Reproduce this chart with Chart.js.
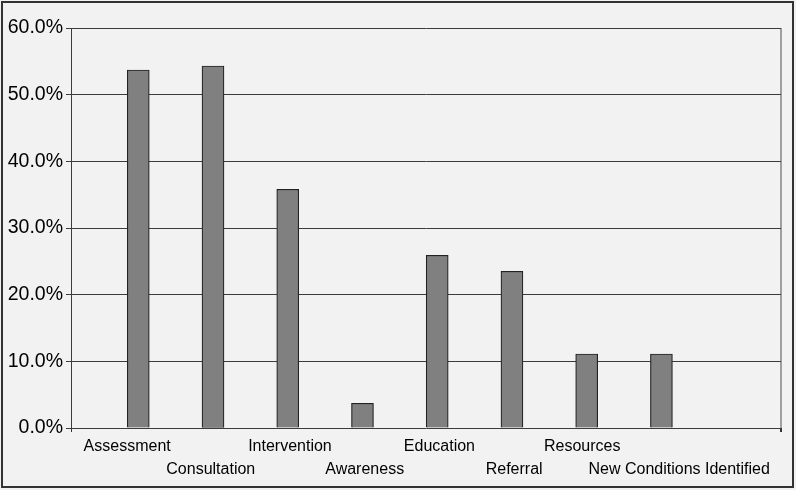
<!DOCTYPE html>
<html>
<head>
<meta charset="utf-8">
<script src="https://cdn.jsdelivr.net/npm/chart.js@4/dist/chart.umd.min.js"></script>
<style>
  html, body { margin: 0; padding: 0; background: #f2f2f2; }
  canvas { display: block; }
</style>
</head>
<body>
<canvas id="c" width="796" height="490"></canvas>
<script>
// ---- data ----
const categories = ["Assessment", "Consultation", "Intervention", "Awareness",
                    "Education", "Referral", "Resources", "New Conditions Identified"];
const percentValues = [53.7, 54.3, 35.8, 3.7, 25.9, 23.5, 11.1, 11.1];
const yTickValues = [0, 10, 20, 30, 40, 50, 60];

// ---- layout helpers (label placement tweaks, in spaces) ----
const labelRow = [0, 1, 0, 1, 0, 1, 0, 1];          // staggered rows
const leadSpaces = [0, 0, 1, 1, 1, 1, 0, 8];
const trailSpaces = [5, 1, 0, 0, 0, 0, 2, 0];

const X_MIN = -0.9, X_MAX = 8.6;

const bgPlugin = {
  id: 'bg',
  beforeDraw(chart) {
    const ctx = chart.ctx;
    ctx.save();
    ctx.fillStyle = '#f2f2f2';
    ctx.fillRect(0, 0, chart.width, chart.height);
    ctx.restore();
  },
  afterDraw(chart) {
    const ctx = chart.ctx;
    ctx.save();
    ctx.strokeStyle = '#333333';
    ctx.lineWidth = 2;
    ctx.strokeRect(2, 2, 791, 485);
    ctx.restore();
  }
};

new Chart(document.getElementById('c'), {
  type: 'bar',
  data: {
    datasets: [{
      data: percentValues.map((v, i) => ({ x: i, y: v })),
      backgroundColor: '#808080',
      borderColor: '#222222',
      borderWidth: 1.2,
      barThickness: 22
    }]
  },
  options: {
    responsive: false,
    animation: false,
    layout: { padding: { top: 28, right: 15, bottom: 0, left: 0 } },
    plugins: { legend: { display: false }, tooltip: { enabled: false } },
    scales: {
      x: {
        type: 'linear',
        min: X_MIN,
        max: X_MAX,
        offset: false,
        afterFit(scale) { scale.height = 62; },
        grid: {
          offset: false,
          drawOnChartArea: true,
          drawTicks: true,
          tickLength: 4,
          color: (c) => (c.tick && Math.abs(c.tick.value - X_MAX) < 1e-6) ? '#a0a0a0' : 'rgba(0,0,0,0)',
          tickColor: (c) => (c.tick && (Math.abs(c.tick.value - X_MAX) < 1e-6 || Math.abs(c.tick.value - X_MIN) < 1e-6)) ? '#333333' : 'rgba(0,0,0,0)',
          lineWidth: (c) => (c.tick && Math.abs(c.tick.value - X_MAX) < 1e-6) ? 2 : 1
        },
        border: { display: false },
        ticks: {
          stepSize: 1,
          autoSkip: false,
          maxRotation: 0,
          minRotation: 0,
          padding: 3,
          color: '#000000',
          font: { family: '"Liberation Sans", Arial, sans-serif', size: 16, lineHeight: 1.44 },
          callback(value) {
            if (!Number.isInteger(value) || value < 0 || value >= categories.length) return '';
            const txt = ' '.repeat(leadSpaces[value]) + categories[value] + ' '.repeat(trailSpaces[value]);
            return labelRow[value] === 0 ? [txt] : ['', txt];
          }
        }
      },
      y: {
        min: 0,
        max: 60,
        afterFit(scale) { scale.width = 71; },
        afterBuildTicks(scale) { scale.ticks = yTickValues.map(v => ({ value: v })); },
        grid: {
          color: '#3c3c3c',
          lineWidth: 1,
          drawTicks: true,
          tickLength: 5,
          tickColor: '#3c3c3c'
        },
        border: { display: true, color: '#3c3c3c', width: 1 },
        ticks: {
          padding: 3,
          color: '#000000',
          font: { family: '"Liberation Sans", Arial, sans-serif', size: 19.5 },
          callback: (v) => v.toFixed(1) + '%'
        }
      }
    }
  },
  plugins: [bgPlugin]
});
</script>
</body>
</html>
